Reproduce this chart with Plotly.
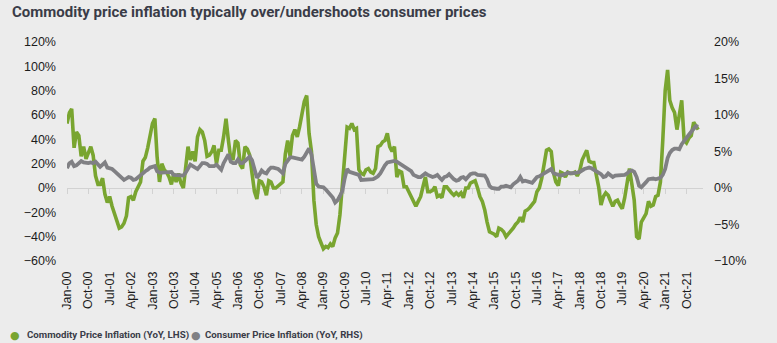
import pandas as pd
import plotly.graph_objects as go

title_text = "Commodity price inflation typically over/undershoots consumer prices"
series_names = ["Commodity Price Inflation (YoY, LHS)", "Consumer Price Inflation (YoY, RHS)"]

commodity = [
    53, 62, 65, 33, 46, 43, 26, 34, 24, 30, 34, 27,
    10, 3, 3, 8, -5, -12, -7, -15, -21, -25, -33, -32,
    -29, -23, -8, -7, -10, -3, 1, 5, 22, 25, 33, 45,
    53, 57, 26, 5, 20, 15, 13, 9, 3, 12, 5, 12,
    4, 0, 15, 34, 23, 30, 22, 42, 48, 46, 39, 26,
    27, 30, 35, 20, 31, 31, 42, 57, 39, 24, 24, 39,
    37, 19, 16, 34, 32, 27, 12, -3, -9, 6, 5, 1,
    -6, 6, 5, 0, 0, 2, 3, 5, 28, 39, 26, 43,
    48, 42, 50, 61, 71, 76, 45, 30, -10, -30, -40, -45,
    -50, -48, -49, -46, -48, -41, -37, -22, 3, 33, 50, 49,
    53, 48, 49, 15, 12, 11, 15, 16, 13, 12, 16, 34,
    35, 38, 39, 45, 34, 30, 34, 9, 14, 13, 1, 1,
    -3, -6, -10, -15, -11, -7, 1, 9, -3, -3, -2, 1,
    -7, -6, -8, 1, 1, -2, -4, -6, -4, -6, -4, -8,
    0, 0, 4, 5, 6, 0, -7, -11, -18, -28, -36, -37,
    -38, -40, -33, -34, -36, -40, -38, -36, -33, -30, -28, -24,
    -28, -19, -18, -16, -13, -11, -3, 0, 8, 20, 31, 32,
    30, 12, 5, 2, 13, 12, 9, 13, 12, 12, 13, 10,
    14, 23, 27, 31, 22, 21, 21, 11, 1, -14, -7, -4,
    -6, -11, -15, -11, -10, -14, -17, -8, 6, 16, 3, -10,
    -40, -42, -28, -25, -21, -11, -15, -14, -7, -6, 5, 39,
    80, 97, 72, 66, 62, 48, 60, 72, 39, 37, 41, 43,
    54, 50, 48,
]

consumer = [
    2.7, 3.4, 3.6, 3.0, 3.1, 3.5, 3.7, 3.5, 3.4, 3.4, 3.5, 3.4,
    3.6, 3.3, 2.9, 3.2, 3.5, 2.8, 2.7, 2.6, 2.3, 2.0, 1.7, 1.5,
    1.1, 1.3, 1.5, 1.4, 1.1, 1.2, 1.5, 1.8, 2.1, 2.3, 2.5, 2.8,
    2.9, 3.0, 2.3, 2.1, 2.1, 2.1, 2.1, 2.1, 2.2, 1.8, 1.8, 1.8,
    1.7, 1.7, 2.1, 2.8, 3.2, 3.0, 2.8, 2.6, 3.0, 3.4, 3.4, 3.3,
    3.0, 3.0, 3.0, 3.2, 2.8, 2.5, 3.4, 4.0, 4.6, 3.6, 3.4, 3.4,
    3.9, 3.4, 3.4, 3.7, 4.0, 4.3, 3.8, 2.7, 1.4, 1.8, 2.4, 2.1,
    2.0, 2.5, 2.8, 2.8, 2.7, 2.6, 2.3, 2.0, 3.3, 3.8, 4.2, 4.2,
    4.1, 4.0, 3.9, 3.9, 4.3, 5.0, 5.4, 4.6, 2.6, 0.6, 0.2, 0.2,
    0.1, -0.2, -0.5, -0.9, -1.3, -2.0, -1.7, -1.1, -0.4, 1.3, 2.6, 2.2,
    2.1, 2.1, 2.0, 1.8, 1.1, 1.1, 1.1, 1.1, 1.1, 1.2, 1.4, 1.6,
    2.0, 2.7, 3.1, 3.5, 3.6, 3.6, 3.7, 3.6, 3.4, 3.2, 2.9, 2.8,
    2.6, 2.3, 1.8, 1.6, 1.5, 1.5, 1.8, 2.0, 1.8, 1.7, 1.5, 1.6,
    1.8, 1.4, 1.1, 1.5, 1.6, 1.9, 1.5, 1.2, 1.0, 1.1, 1.4, 1.5,
    1.2, 1.5, 1.9, 2.0, 2.0, 1.8, 1.8, 1.8, 1.7, 1.2, 0.3, 0.0,
    -0.1, -0.1, -0.1, 0.2, 0.2, 0.3, 0.2, 0.1, 0.5, 0.8, 1.0, 1.5,
    0.9, 1.0, 0.9, 0.8, 0.7, 1.1, 1.5, 1.6, 1.8, 2.0, 2.2, 2.5,
    2.6, 2.0, 1.9, 1.7, 1.7, 1.8, 2.0, 2.1, 2.0, 2.0, 2.1, 2.1,
    2.2, 2.5, 2.6, 2.7, 2.8, 2.7, 2.5, 2.3, 2.0, 1.9, 1.5, 1.6,
    2.0, 1.7, 1.5, 1.7, 1.7, 1.7, 1.7, 1.8, 2.0, 2.3, 2.4, 2.2,
    1.5, 0.3, 0.1, 0.4, 0.8, 1.2, 1.3, 1.3, 1.2, 1.3, 1.4, 1.8,
    2.6, 4.1, 4.8, 5.2, 5.4, 5.4, 5.3, 6.0, 6.5, 7.0, 7.3, 7.7,
    8.2, 8.5, 8.4,
]

dates_c = pd.date_range("2000-01-01", periods=len(commodity), freq="MS")
dates_p = pd.date_range("2000-01-01", periods=len(consumer), freq="MS")

left_range = [-60, 120]
right_range = [-10, 20]
x_range = ["2000-01-01", "2022-05-01"]

GREEN = "#79a530"
GRAY = "#808084"
BG = "#ececec"
TXT = "#1c1c1c"
TICKFONT = dict(family="Liberation Sans, Arial", size=12.5, color=TXT)

W, H = 777, 343
ML, MR, MT, MB = 67, 74, 42, 82
PW, PH = W - ML - MR, H - MT - MB


def px_x(px):
    return (px - ML) / PW


def px_y(py):
    return (H - MB - py) / PH


fig = go.Figure()
fig.add_trace(go.Scatter(x=dates_c, y=commodity, mode="lines", name=series_names[0],
                         line=dict(color=GREEN, width=3.6), yaxis="y", xaxis="x",
                         showlegend=False))
fig.add_trace(go.Scatter(x=dates_p, y=consumer, mode="lines", name=series_names[1],
                         line=dict(color=GRAY, width=3.8), yaxis="y2", xaxis="x",
                         showlegend=False))
# helper trace so the zero-line axis (x2) is drawn
fig.add_trace(go.Scatter(x=[dates_c[0]], y=[0], mode="lines", xaxis="x2", yaxis="y",
                         showlegend=False, hoverinfo="skip", line=dict(width=0)))

legend_font = dict(family="Roboto", size=9.7, color="#3a3c48")
legend_items = [(GREEN, series_names[0], 15, 26), (GRAY, series_names[1], 196, 204)]
annotations = []
for color, name, dot_x, text_x in legend_items:
    annotations.append(dict(xref="paper", yref="paper", x=px_x(dot_x), y=px_y(335),
                            xanchor="center", yanchor="middle", showarrow=False,
                            text="●", font=dict(family="DejaVu Sans", size=11, color=color)))
    annotations.append(dict(xref="paper", yref="paper", x=px_x(text_x - 1), y=px_y(335),
                            xanchor="left", yanchor="middle", showarrow=False,
                            text="<b>%s</b>" % name, font=legend_font))

fig.update_layout(
    width=W, height=H,
    margin=dict(l=ML, r=MR, t=MT, b=MB),
    paper_bgcolor=BG, plot_bgcolor=BG,
    showlegend=False,
    title=dict(text="<b>" + title_text + "</b>", x=12 / W, xanchor="left",
               y=1 - 12 / H, yanchor="middle",
               font=dict(family="Roboto", size=15, color="#3a3c48")),
    xaxis=dict(type="date", range=x_range, tick0="2000-01-01", dtick="M9",
               tickformat="%b-%y", tickangle=-90, showgrid=False, zeroline=False,
               showline=False, ticks="", tickfont=TICKFONT, ticklabelstandoff=7),
    xaxis2=dict(type="date", matches="x", overlaying="x", anchor="free",
                position=(0 - left_range[0]) / (left_range[1] - left_range[0]),
                tick0="2000-01-01", dtick="M9", showticklabels=False,
                showgrid=False, zeroline=False, showline=True, linecolor="#d2d2d2",
                linewidth=1, ticks="outside", ticklen=5, tickcolor="#d2d2d2",
                tickwidth=1, layer="below traces"),
    yaxis=dict(range=left_range, dtick=20, ticksuffix="%", showgrid=False,
               zeroline=False, showline=False, ticks="", tickfont=TICKFONT,
               ticklabelstandoff=10),
    yaxis2=dict(range=right_range, dtick=5, ticksuffix="%", overlaying="y", side="right",
                showgrid=False, zeroline=False, showline=False, ticks="",
                tickfont=TICKFONT, ticklabelstandoff=10),
    annotations=annotations,
)

fig.write_html("out.html")
